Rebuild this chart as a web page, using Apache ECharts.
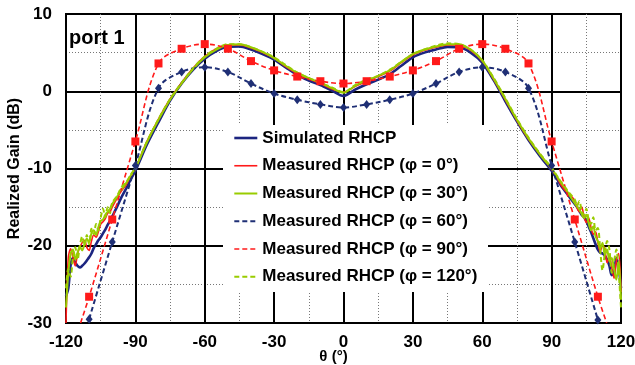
<!DOCTYPE html>
<html><head><meta charset="utf-8">
<script src="https://cdn.jsdelivr.net/npm/echarts@6/dist/echarts.min.js"></script>
<style>html,body{margin:0;padding:0;background:#fff}#c{width:635px;height:365px}</style>
</head><body><div id="c"></div><script>
// theta grid (deg) for continuous curves
const theta = [-120,-119,-118,-117,-116,-115,-114,-113,-112,-111,-110,-109,-108,-107,-106,-105,-104,-103,-102,-101,-100,
  -98,-96,-94,-92,-90,
  -85,-80,-75,-70,-65,-60,-55,-50,-45,-40,-35,-30,-25,-20,-15,-10,-5,0,5,10,15,20,25,30,35,40,45,50,55,60,65,70,75,80,85,
  90,92,94,96,98,100,
  101,102,103,104,105,106,107,108,109,110,111,112,113,114,115,116,117,118,119,120];

const simulatedRHCP = [-26.5,-25.5,-22.5,-21.6,-22.2,-22.6,-22.8,-22.6,-22.3,-21.9,-21.5,-21.0,-20.3,-19.8,-19.3,-18.9,-18.4,-17.9,-17.3,-16.8,-16.2,
  -15.0,-13.7,-12.6,-11.4,-10.3,
  -6.9,-4.0,-1.2,1.0,2.8,4.2,5.2,5.75,5.8,5.4,4.8,4.1,3.1,2.1,1.4,0.8,0.1,-0.6,0.2,0.9,1.5,2.2,3.3,4.4,5.0,5.4,5.75,5.7,5.0,3.7,1.4,-1.3,-3.9,-6.3,-8.4,
  -10.3,-11.2,-12.2,-13.0,-13.8,-14.6,
  -15.0,-15.5,-16.0,-16.3,-16.8,-17.5,-18.2,-19.0,-19.8,-20.5,-20.9,-21.0,-21.3,-21.8,-22.6,-23.8,-23.5,-21.6,-22.8,-25.5];

const measuredPhi0 = [-30,-21.5,-20.4,-21.5,-22.6,-21.0,-20.2,-19.6,-19.3,-20.2,-20.6,-19.4,-18.6,-18.9,-18.2,-17.2,-16.9,-16.5,-15.8,-15.6,-15.0,
  -13.9,-12.9,-12.1,-11.0,-10.0,
  -6.5,-3.6,-1.0,1.1,3.0,4.5,5.5,6.0,6.0,5.6,5.0,4.3,3.2,2.3,1.6,1.0,0.3,-0.1,0.6,1.3,1.9,2.6,3.7,4.7,5.3,5.7,6.0,6.0,5.3,3.9,1.5,-1.1,-3.8,-6.2,-8.2,
  -10.1,-11.0,-12.1,-12.9,-13.4,-14.2,
  -15.1,-15.6,-15.0,-16.2,-17.0,-16.4,-17.6,-18.5,-18.2,-19.6,-20.8,-19.9,-20.5,-22.2,-21.4,-22.8,-24.2,-22.0,-21.0,-26.0];

const measuredPhi30 = [-28,-23.5,-21.0,-20.5,-21.8,-20.9,-20.1,-20.6,-19.8,-19.1,-19.5,-18.4,-18.0,-18.6,-17.6,-16.8,-16.6,-16.0,-15.6,-15.2,-14.6,
  -13.7,-12.7,-11.9,-10.9,-10.0,
  -6.6,-3.7,-1.1,1.0,2.9,4.4,5.4,6.0,6.1,5.7,5.1,4.3,3.3,2.4,1.7,1.1,0.4,-0.2,0.7,1.4,2.0,2.7,3.8,4.8,5.4,5.8,6.1,6.1,5.4,4.0,1.6,-1.0,-3.7,-6.1,-8.2,
  -10.0,-10.9,-11.8,-12.6,-13.6,-14.5,
  -14.9,-15.3,-15.9,-16.4,-16.0,-17.1,-18.0,-17.5,-18.8,-19.4,-20.4,-19.6,-21.2,-20.5,-22.0,-21.6,-23.0,-24.4,-22.0,-27.0];

const measuredPhi120 = [-25.5,-23.0,-24.0,-21.5,-20.2,-21.8,-20.0,-18.8,-20.0,-18.6,-19.8,-17.8,-18.5,-17.2,-18.0,-16.4,-15.2,-16.3,-15.0,-15.8,-14.4,
  -13.6,-12.4,-11.8,-10.8,-9.9,
  -6.5,-3.6,-1.0,1.1,3.0,4.5,5.5,6.1,6.1,5.7,5.1,4.4,3.4,2.4,1.7,1.1,0.5,-0.1,0.8,1.5,2.0,2.8,3.8,4.8,5.4,5.9,6.2,6.1,5.4,4.0,1.7,-0.9,-3.6,-6.0,-8.1,
  -9.9,-10.8,-11.7,-12.5,-13.3,-14.0,
  -14.8,-14.2,-15.5,-16.0,-15.2,-16.6,-17.2,-16.3,-18.0,-17.7,-20.5,-23.2,-21.0,-19.4,-20.5,-23.5,-22.0,-20.5,-23.5,-28.0];

// marker series
const theta60 = [-110,-100,-90,-80,-70,-60,-50,-40,-30,-20,-10,0,10,20,30,40,50,60,70,80,90,100,110];
const measuredPhi60 = [-29.5,-19.5,-9.6,0.4,2.5,3.1,2.5,1.0,-0.3,-1.1,-1.7,-2.1,-1.7,-1.1,-0.3,1.0,2.5,3.1,2.5,0.4,-9.6,-19.5,-29.6];

const theta90 = [-113.7,-110,-100,-90,-80,-70,-60,-50,-40,-30,-20,-10,0,10,20,30,40,50,60,70,80,90,100,110,113.8];
const measuredPhi90 = [-30,-26.6,-16.6,-6.5,3.6,5.5,6.1,5.5,3.9,2.7,1.9,1.3,1.0,1.3,1.9,2.7,3.9,5.5,6.1,5.5,3.6,-6.5,-16.6,-26.6,-30];

const seriesNames = ['Simulated RHCP','Measured RHCP (φ = 0°)','Measured RHCP (φ = 30°)','Measured RHCP (φ = 60°)','Measured RHCP (φ = 90°)','Measured RHCP (φ = 120°)'];
const xTicks = [-120,-90,-60,-30,0,30,60,90,120];
const yTicks = [-30,-20,-10,0,10];

const F = '"Liberation Sans", Arial, sans-serif';
const NAVY = '#1c2580';
const NAVY2 = '#1f2f75';
const RED = '#ff1a1a';
const GREEN = '#99cc00';

function pairs(xs, ys){ return xs.map((x,i)=>[x, ys[i]]); }
function pairsEnds(xs, ys){ return xs.map((x,i)=> (i===0||i===xs.length-1) ? {value:[x,ys[i]], symbol:'none'} : [x, ys[i]]); }

const chart = echarts.init(document.getElementById('c'), null, {renderer:'canvas'});
const axisLabelStyle = {fontFamily:F, fontSize:17, fontWeight:'bold', color:'#000'};
const option = {
  animation:false,
  backgroundColor:'#fff',
  title:{text:'port 1', left:69, top:28, padding:0, textStyle:{fontFamily:F, fontSize:20, fontWeight:'bold', color:'#000'}},
  grid:{left:66, right:14, top:14, bottom:42, show:true, borderColor:'#000', borderWidth:2, backgroundColor:'transparent',
        containLabel:false, outerBoundsMode:'none'},
  graphic:[{type:'rect', shape:{x:223, y:125, width:265, height:167}, style:{fill:'#fff'}, z:1, silent:true}],
  xAxis:[
    {type:'value', min:-120, max:120, interval:15, axisLine:{show:false}, axisTick:{show:false}, axisLabel:{show:false},
     splitLine:{show:true, lineStyle:{color:'#777', width:1, type:[1,2]}}},
    {type:'value', min:-120, max:120, interval:30, position:'bottom', axisLine:{show:false}, axisTick:{show:false},
     axisLabel:Object.assign({margin:11, formatter:v=>xTicks.includes(v)?String(v):''}, axisLabelStyle),
     splitLine:{show:true, lineStyle:{color:'#000', width:2}},
     name:'θ (°)', nameLocation:'middle', nameGap:34, nameMoveOverlap:false,
     nameTextStyle:{fontFamily:F, fontSize:15, fontWeight:'bold', color:'#000', padding:[0,20,0,0], verticalAlign:'middle'}}
  ],
  yAxis:[
    {type:'value', min:-30, max:10, interval:5, axisLine:{show:false}, axisTick:{show:false}, axisLabel:{show:false},
     splitLine:{show:true, lineStyle:{color:'#777', width:1, type:[1,2]}}},
    {type:'value', min:-30, max:10, interval:10, position:'left', axisLine:{show:false}, axisTick:{show:false},
     axisLabel:Object.assign({margin:14, formatter:v=>yTicks.includes(v)?String(v):''}, axisLabelStyle),
     splitLine:{show:true, lineStyle:{color:'#000', width:2}},
     name:'Realized Gain (dB)', nameLocation:'middle', nameGap:51, nameMoveOverlap:false,
     nameTextStyle:{fontFamily:F, fontSize:16, fontWeight:'bold', color:'#000', verticalAlign:'middle'}}
  ],
  legend:{orient:'vertical', left:233, top:129, padding:0, itemWidth:23, itemHeight:14, itemGap:9.75,
    itemStyle:{opacity:0}, lineStyle:{width:'inherit'},
    textStyle:{fontFamily:F, fontSize:17, fontWeight:'bold', color:'#000', lineHeight:18},
    data:seriesNames},
  series:[
    {name:seriesNames[0], type:'line', xAxisIndex:1, yAxisIndex:1, data:pairs(theta, simulatedRHCP), symbol:'none', smooth:0.3,
     lineStyle:{color:NAVY, width:2.6}, itemStyle:{color:NAVY}},
    {name:seriesNames[1], type:'line', xAxisIndex:1, yAxisIndex:1, data:pairs(theta, measuredPhi0), symbol:'none', smooth:0.3,
     lineStyle:{color:RED, width:1.6}, itemStyle:{color:RED}},
    {name:seriesNames[2], type:'line', xAxisIndex:1, yAxisIndex:1, data:pairs(theta, measuredPhi30), symbol:'none', smooth:0.3,
     lineStyle:{color:GREEN, width:2}, itemStyle:{color:GREEN}},
    {name:seriesNames[3], type:'line', xAxisIndex:1, yAxisIndex:1, data:pairs(theta60, measuredPhi60), symbol:'diamond', symbolSize:[7,9], smooth:0.35,
     lineStyle:{color:NAVY2, width:2, type:[5,3]}, itemStyle:{color:NAVY2}},
    {name:seriesNames[4], type:'line', xAxisIndex:1, yAxisIndex:1, data:pairsEnds(theta90, measuredPhi90), symbol:'rect', symbolSize:8, smooth:0.35,
     lineStyle:{color:RED, width:1.6, type:[5,3]}, itemStyle:{color:RED}},
    {name:seriesNames[5], type:'line', xAxisIndex:1, yAxisIndex:1, data:pairs(theta, measuredPhi120), symbol:'none', smooth:0.3,
     lineStyle:{color:GREEN, width:2, type:[5,3]}, itemStyle:{color:GREEN}}
  ]
};
chart.setOption(option);
</script></body></html>
